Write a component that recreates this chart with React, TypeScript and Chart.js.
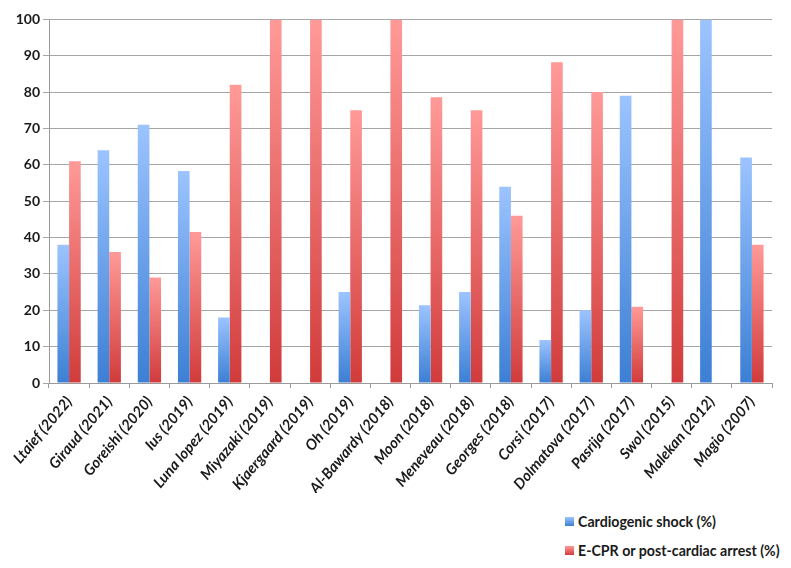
import { useEffect, useRef } from 'react'
import { Chart, registerables } from 'chart.js'

Chart.register(...registerables)

const studies = [
  'Ltaief (2022)', 'Giraud (2021)', 'Goreishi (2020)', 'Ius (2019)', 'Luna lopez (2019)',
  'Miyazaki (2019)', 'Kjaergaard (2019)', 'Oh (2019)', 'Al-Bawardy (2018)', 'Moon (2018)',
  'Meneveau (2018)', 'Georges (2018)', 'Corsi (2017)', 'Dolmatova (2017)', 'Pasrija (2017)',
  'Swol (2015)', 'Malekan (2012)', 'Magio (2007)',
]

const cardiogenicShock = [38, 64, 71, 58.3, 18, null, null, 25, null, 21.4, 25, 54, 11.8, 20, 79, null, 100, 62]
const ecprArrest = [61, 36, 29, 41.5, 82, 100, 100, 75, 100, 78.6, 75, 46, 88.2, 80, 21, 100, null, 38]

const yTicks = [0, 10, 20, 30, 40, 50, 60, 70, 80, 90, 100]

const blueStops = ['#9cc4ff', '#3c7fd4']
const redStops = ['#ff9a98', '#d13b3b']

const font = 'Lato, "Open Sans", sans-serif'

// gradient across each bar's own height, light at top
const barGradient = (stops: string[]) => (ctx: any) => {
  const chart = ctx.chart
  if (ctx.type !== 'data' || !chart.chartArea) return stops[1]
  const v = ctx.raw
  if (v == null) return stops[1]
  const y = chart.scales.y
  const top = y.getPixelForValue(v)
  const bottom = y.getPixelForValue(0)
  if (!isFinite(top) || !isFinite(bottom) || top === bottom) return stops[1]
  const g = chart.ctx.createLinearGradient(0, top, 0, bottom)
  g.addColorStop(0, stops[0])
  g.addColorStop(1, stops[1])
  return g
}

export default function App() {
  const chartRef = useRef<HTMLCanvasElement>(null)
  const chartInstance = useRef<Chart | null>(null)

  useEffect(() => {
    if (!chartRef.current) return
    if (chartInstance.current) chartInstance.current.destroy()
    const ctx = chartRef.current.getContext('2d')
    if (!ctx) return

    chartInstance.current = new Chart(ctx, {
      type: 'bar',
      data: {
        labels: studies,
        datasets: [
          {
            label: 'Cardiogenic shock (%)',
            data: cardiogenicShock,
            backgroundColor: barGradient(blueStops),
            borderWidth: 0,
            categoryPercentage: 0.58,
            barPercentage: 1,
          },
          {
            label: 'E-CPR or post-cardiac arrest (%)',
            data: ecprArrest,
            backgroundColor: barGradient(redStops),
            borderWidth: 0,
            categoryPercentage: 0.58,
            barPercentage: 1,
          },
        ],
      },
      options: {
        animation: false,
        responsive: false,
        maintainAspectRatio: false,
        layout: { padding: { top: 11, right: 11, bottom: 0, left: 0 } },
        plugins: {
          legend: { display: false },
          tooltip: { enabled: false },
        },
        scales: {
          x: {
            grid: {
              offset: true,
              drawOnChartArea: false,
              drawTicks: true,
              tickLength: 5,
              color: '#9a9a9a',
            },
            border: { color: '#9a9a9a' },
            ticks: {
              minRotation: 50,
              maxRotation: 50,
              autoSkip: false,
              padding: 5,
              color: '#1a1a1a',
              font: { family: font, size: 15, weight: 'bold', style: 'italic' },
            },
            afterFit: (axis: any) => { axis.height = 110 },
          },
          y: {
            min: 0,
            max: 100,
            afterBuildTicks: (axis: any) => { axis.ticks = yTicks.map(v => ({ value: v })) },
            grid: {
              color: '#a6a6a6',
              tickLength: 6,
            },
            border: { color: '#9a9a9a' },
            ticks: {
              padding: 3,
              color: '#1a1a1a',
              font: { family: font, size: 14, weight: 'bold' },
            },
            afterFit: (axis: any) => { axis.width = 41 },
          },
        },
      },
    })

    return () => {
      if (chartInstance.current) {
        chartInstance.current.destroy()
        chartInstance.current = null
      }
    }
  }, [])

  const legendItems = [
    { label: 'Cardiogenic shock (%)', stops: blueStops },
    { label: 'E-CPR or post-cardiac arrest (%)', stops: redStops },
  ]

  return (
    <div style={{ position: 'relative', width: 775, height: 552, fontFamily: font }}>
      <canvas ref={chartRef} width={775} height={485} style={{ position: 'absolute', left: 0, top: 0 }} />
      <div style={{ position: 'absolute', left: 557, top: 499 }}>
        {legendItems.map(item => (
          <div key={item.label} style={{ display: 'flex', alignItems: 'center', height: 29, fontSize: 14.2, fontWeight: 'bold', color: '#1a1a1a', whiteSpace: 'nowrap' }}>
            <span style={{ display: 'inline-block', width: 9, height: 9, marginRight: 4, background: `linear-gradient(${item.stops[0]}, ${item.stops[1]})` }} />
            {item.label}
          </div>
        ))}
      </div>
    </div>
  )
}
